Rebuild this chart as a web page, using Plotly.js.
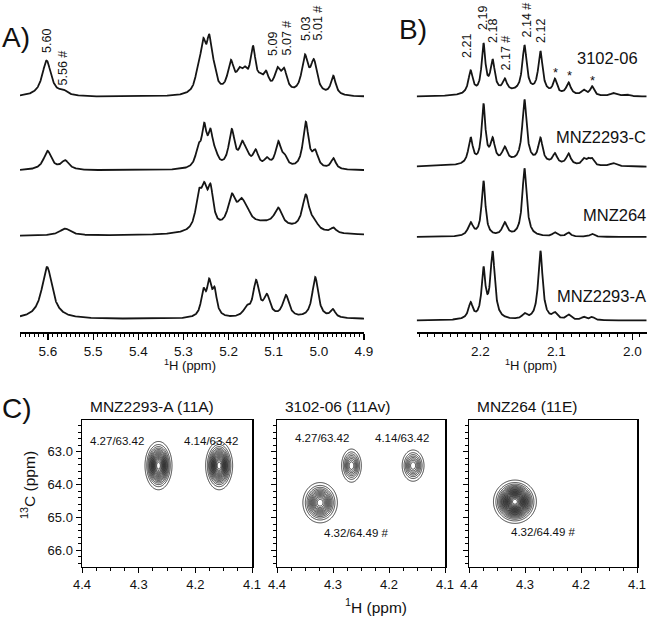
<!DOCTYPE html>
<html><head><meta charset="utf-8">
<script src="https://cdn.plot.ly/plotly-3.0.1.min.js"></script>
<style>html,body{margin:0;padding:0;background:#fff}#plot{width:650px;height:618px}</style>
</head><body><div id="plot"></div>
<script>
// ---------------- DATA ----------------
const sampleNames = ['3102-06', 'MNZ2293-C', 'MNZ264', 'MNZ2293-A'];

// Panel A: 1H peak lists (ppm, intensity a.u., FWHM ppm)
const A1_ppm  = [5.603, 5.566, 5.267, 5.256, 5.243, 5.233, 5.195, 5.176, 5.164, 5.146, 5.130, 5.117, 5.092, 5.077, 5.031, 5.011, 4.968];
const A1_int  = [36, 4, 19, 40, 45, 15, 30, 16, 15, 43, 8, 17, 21, 21, 36, 31, 19];
const A1_fwhm = [0.024, 0.022, 0.015, 0.014, 0.014, 0.015, 0.017, 0.016, 0.015, 0.015, 0.015, 0.015, 0.016, 0.016, 0.017, 0.017, 0.013];

const A2_ppm  = [5.601, 5.562, 5.267, 5.254, 5.240, 5.229, 5.193, 5.170, 5.160, 5.140, 5.115, 5.090, 5.076, 5.029, 5.008, 4.968];
const A2_int  = [19, 9, 17, 37, 30, 9, 37, 20, 10, 16, 8, 25, 9, 46, 15, 11];
const A2_fwhm = [0.021, 0.021, 0.014, 0.013, 0.013, 0.014, 0.016, 0.015, 0.015, 0.015, 0.015, 0.015, 0.015, 0.015, 0.015, 0.013];

const A3_ppm  = [5.562, 5.266, 5.254, 5.240, 5.193, 5.172, 5.160, 5.120, 5.090, 5.029, 5.010, 4.968];
const A3_int  = [7, 32, 32, 37, 30, 19, 10, 11, 17, 35, 7, 5];
const A3_fwhm = [0.030, 0.016, 0.015, 0.015, 0.021, 0.021, 0.021, 0.150, 0.020, 0.019, 0.017, 0.014];

const A4_ppm  = [5.602, 5.256, 5.243, 5.231, 5.160, 5.139, 5.115, 5.073, 5.008, 4.969];
const A4_int  = [52, 24, 31, 24, 8, 35, 20, 22, 41, 8];
const A4_fwhm = [0.028, 0.012, 0.012, 0.012, 0.017, 0.016, 0.017, 0.017, 0.016, 0.013];

// Panel B: 1H peak lists
const B1_ppm  = [2.213, 2.196, 2.184, 2.168, 2.142, 2.121, 2.102, 2.084, 2.064, 2.053, 2.025, 2.008, 2.150];
const B1_int  = [23, 48, 31, 12, 46, 41, 14, 12, 5, 9, 3, 2, 4];
const B1_fwhm = [0.007, 0.006, 0.007, 0.007, 0.007, 0.007, 0.006, 0.007, 0.007, 0.006, 0.009, 0.009, 0.100];

const B2_ppm  = [2.213, 2.196, 2.184, 2.168, 2.142, 2.121, 2.102, 2.084, 2.064, 2.058, 2.053, 2.025, 2.150];
const B2_int  = [26, 58, 22, 14, 62, 24, 10, 11, 6, 5, 6, 3, 4];
const B2_fwhm = [0.007, 0.006, 0.007, 0.008, 0.007, 0.007, 0.007, 0.007, 0.006, 0.006, 0.006, 0.009, 0.100];

const B3_ppm  = [2.213, 2.196, 2.168, 2.142, 2.102, 2.084, 2.053];
const B3_int  = [13, 55, 13, 68, 4, 4, 3];
const B3_fwhm = [0.008, 0.006, 0.008, 0.007, 0.007, 0.007, 0.007];

const B4_ppm  = [2.213, 2.196, 2.184, 2.142, 2.121, 2.102, 2.084, 2.064, 2.053];
const B4_int  = [16, 48, 66, 5, 69, 6, 5, 3, 3];
const B4_fwhm = [0.007, 0.006, 0.007, 0.007, 0.007, 0.007, 0.007, 0.007, 0.007];

// Peak labels
const A_labels = ['5.60', '5.56 #', '5.09', '5.07 #', '5.03', '5.01 #'];
const B_labels = ['2.21', '2.19', '2.18', '2.17 #', '2.14 #', '2.12'];

// Panel C: HSQC cross peaks (1H ppm, 13C ppm, amplitude, sigma H, sigma C)
const C_titles = ['MNZ2293-A (11A)', '3102-06 (11Av)', 'MNZ264 (11E)'];
const C1_h = [4.265, 4.158], C1_c = [63.42, 63.42], C1_amp = [18, 18], C1_sh = [0.0099, 0.0099], C1_sc = [0.306, 0.306];
const C2_h = [4.267, 4.157, 4.323], C2_c = [63.42, 63.42, 64.55], C2_amp = [9, 9, 14], C2_sh = [0.0084, 0.0093, 0.0134], C2_sc = [0.241, 0.227, 0.267];
const C3_h = [4.318], C3_c = [64.52], C3_amp = [25], C3_sh = [0.0151], C3_sc = [0.26];
const C1_labels = ['4.27/63.42', '4.14/63.42'];
const C2_labels = ['4.27/63.42', '4.14/63.42', '4.32/64.49 #'];
const C3_labels = ['4.32/64.49 #'];

// ---------------- BUILD ----------------
const W = 650, H = 618;
const fx = p => p / W, fy = p => 1 - p / H;
const LINE = {color: '#151515', width: 1.8};

function spectrum(xa, xb, step, ppm, inten, fwhm, offset) {
  const x = [], y = [];
  for (let v = xa; v >= xb - 1e-9; v -= step) {
    let s = 0;
    for (let i = 0; i < ppm.length; i++) {
      const d = 2 * (v - ppm[i]) / fwhm[i];
      s += inten[i] / (1 + d * d);
    }
    x.push(v); y.push(s + offset);
  }
  return {x, y};
}

const traces = [];
const A_range = [5.662, 4.9], B_range = [2.284, 1.981];
const A_sets = [[A1_ppm, A1_int, A1_fwhm], [A2_ppm, A2_int, A2_fwhm], [A3_ppm, A3_int, A3_fwhm], [A4_ppm, A4_int, A4_fwhm]];
const B_sets = [[B1_ppm, B1_int, B1_fwhm], [B2_ppm, B2_int, B2_fwhm], [B3_ppm, B3_int, B3_fwhm], [B4_ppm, B4_int, B4_fwhm]];
const A_off = [235, 161.5, 96, 13];
const B_off = [235, 165, 95, 11.5];
A_sets.forEach((s, i) => {
  const sp = spectrum(A_range[0], A_range[1], 0.0005, s[0], s[1], s[2], A_off[i]);
  traces.push({type: 'scatter', mode: 'lines', x: sp.x, y: sp.y, xaxis: 'x', yaxis: 'y', line: LINE, name: sampleNames[i], hoverinfo: 'skip'});
});
B_sets.forEach((s, i) => {
  const sp = spectrum(B_range[0], B_range[1], 0.0002, s[0], s[1], s[2], B_off[i]);
  traces.push({type: 'scatter', mode: 'lines', x: sp.x, y: sp.y, xaxis: 'x2', yaxis: 'y2', line: LINE, name: sampleNames[i], hoverinfo: 'skip'});
});

function hsqc(hs, cs, amp, sh, sc, xa, ya) {
  const gx = [], gy = [], z = [];
  for (let v = 4.4; v >= 4.1 - 1e-9; v -= 0.001) gx.push(v);
  for (let v = 62.0; v <= 66.5 + 1e-9; v += 0.02) gy.push(v);
  for (let j = 0; j < gy.length; j++) {
    const row = [];
    for (let i = 0; i < gx.length; i++) {
      let s = 0;
      for (let k = 0; k < hs.length; k++) {
        const dx = (gx[i] - hs[k]) / sh[k], dy = (gy[j] - cs[k]) / sc[k];
        s += amp[k] * Math.exp(-0.5 * (dx * dx + dy * dy));
      }
      row.push(s);
    }
    z.push(row);
  }
  return {type: 'contour', x: gx, y: gy, z: z, xaxis: xa, yaxis: ya, showscale: false,
    contours: {coloring: 'lines', start: 1, end: 40, size: 1},
    colorscale: [[0, '#111'], [1, '#111']], line: {width: 0.8}, hoverinfo: 'skip'};
}
traces.push(hsqc(C1_h, C1_c, C1_amp, C1_sh, C1_sc, 'x3', 'y3'));
traces.push(hsqc(C2_h, C2_c, C2_amp, C2_sh, C2_sc, 'x4', 'y4'));
traces.push(hsqc(C3_h, C3_c, C3_amp, C3_sh, C3_sc, 'x5', 'y5'));

const FONT = 'Liberation Sans, Arial, sans-serif';
const specX = (dom, rng) => ({
  domain: dom, range: rng, showline: true, linecolor: '#000', linewidth: 1.5,
  ticks: 'outside', ticklen: 6, tickwidth: 1.2, tickcolor: '#000', dtick: 0.1, tick0: 0, tickformat: '.1f',
  minor: {dtick: 0.01, ticks: 'outside', ticklen: 3.5, tickwidth: 1, tickcolor: '#000'},
  showgrid: false, zeroline: false, tickfont: {size: 13.5, color: '#111'}, fixedrange: true
});
const hideY = {domain: [fy(332), fy(15)], range: [0, 317], visible: false, fixedrange: true};
const cX = (dom, anchor) => ({
  domain: dom, anchor: anchor, range: [4.4, 4.1], showline: true, mirror: true, linecolor: '#000', linewidth: 1.5,
  ticks: 'outside', ticklen: 5, tickwidth: 1, tickcolor: '#000', dtick: 0.1, tick0: 0, tickformat: '.1f',
  minor: {dtick: 0.025, ticks: 'outside', ticklen: 3, tickwidth: 1, tickcolor: '#000'},
  showgrid: false, zeroline: false, tickfont: {size: 13, color: '#111'}
});
const cY = (anchor, labels) => ({
  domain: [fy(566.7), fy(420)], anchor: anchor, range: [66.5, 62.03], showline: true, mirror: true, linecolor: '#000', linewidth: 1.5,
  ticks: 'outside', ticklen: 5, tickwidth: 1, tickcolor: '#000', dtick: 1, tick0: 0, tickformat: '.1f',
  minor: {dtick: 0.2, ticks: 'outside', ticklen: 3, tickwidth: 1, tickcolor: '#000'},
  showticklabels: labels, showgrid: false, zeroline: false, tickfont: {size: 13, color: '#111'}
});

const ann = [];
const txt = (text, px, py, size, opts) => ann.push(Object.assign({
  text: text, xref: 'paper', yref: 'paper', x: fx(px), y: fy(py), showarrow: false,
  xanchor: 'center', yanchor: 'middle', font: {size: size, color: '#111', family: FONT}
}, opts || {}));

// panel letters
txt('A)', 0, 37, 28, {xanchor: 'left'});
txt('B)', 397, 30, 28, {xanchor: 'left'});
txt('C)', 0, 408, 28, {xanchor: 'left'});
// axis titles
txt('<sup>1</sup>H (ppm)', 190, 365, 13);
txt('<sup>1</sup>H (ppm)', 531, 365, 13);
txt('<sup>1</sup>H (ppm)', 376, 606, 15.5);
txt('<sup>13</sup>C (ppm)', 28, 485, 15.5, {textangle: -90});
// peak labels A
const A_lx = [47, 63, 273, 286, 306, 317], A_lb = [55, 87, 58, 58, 43, 43];
A_labels.forEach((t, i) => txt(t, A_lx[i], A_lb[i], 12.5, {textangle: -90, yanchor: 'bottom'}));
const B_lx = [467, 483, 493, 506, 526, 541], B_lb = [60, 32, 45, 73, 40, 45];
B_labels.forEach((t, i) => txt(t, B_lx[i], B_lb[i], 12.5, {textangle: -90, yanchor: 'bottom'}));
[[555, 73], [569, 76], [592, 80]].forEach(p => txt('*', p[0], p[1], 13));
// sample labels B
const B_nx = [640, 648, 648, 648], B_ny = [58, 137, 215, 296];
sampleNames.forEach((t, i) => txt(t, B_nx[i], B_ny[i], 16.5, {xanchor: 'right'}));
// C titles
const C_tx = [88, 283, 475];
C_titles.forEach((t, i) => txt(t, C_tx[i], 406, 15.5, {xanchor: 'left'}));
// C peak labels
[[117, 441], [211, 441]].forEach((p, i) => txt(C1_labels[i], p[0], p[1], 11.5));
[[322, 438], [402, 438], [356, 533]].forEach((p, i) => txt(C2_labels[i], p[0], p[1], 11.5));
[[543, 532]].forEach((p, i) => txt(C3_labels[i], p[0], p[1], 11.5));

const layout = {
  width: W, height: H, margin: {l: 0, r: 0, t: 0, b: 0}, paper_bgcolor: '#fff', plot_bgcolor: 'rgba(0,0,0,0)',
  showlegend: false, font: {family: FONT, color: '#111'},
  xaxis: Object.assign(specX([fx(20), fx(364)], A_range), {anchor: 'y'}),
  yaxis: Object.assign({}, hideY, {anchor: 'x'}),
  xaxis2: Object.assign(specX([fx(416.7), fx(646.7)], B_range), {anchor: 'y2'}),
  yaxis2: Object.assign({}, hideY, {anchor: 'x2'}),
  xaxis3: cX([fx(82), fx(252)], 'y3'),
  yaxis3: cY('x3', true),
  xaxis4: cX([fx(277), fx(445)], 'y4'),
  yaxis4: cY('x4', false),
  xaxis5: cX([fx(469), fx(637)], 'y5'),
  yaxis5: cY('x5', false),
  annotations: ann
};
Plotly.newPlot('plot', traces, layout, {staticPlot: true, displayModeBar: false});
</script></body></html>
